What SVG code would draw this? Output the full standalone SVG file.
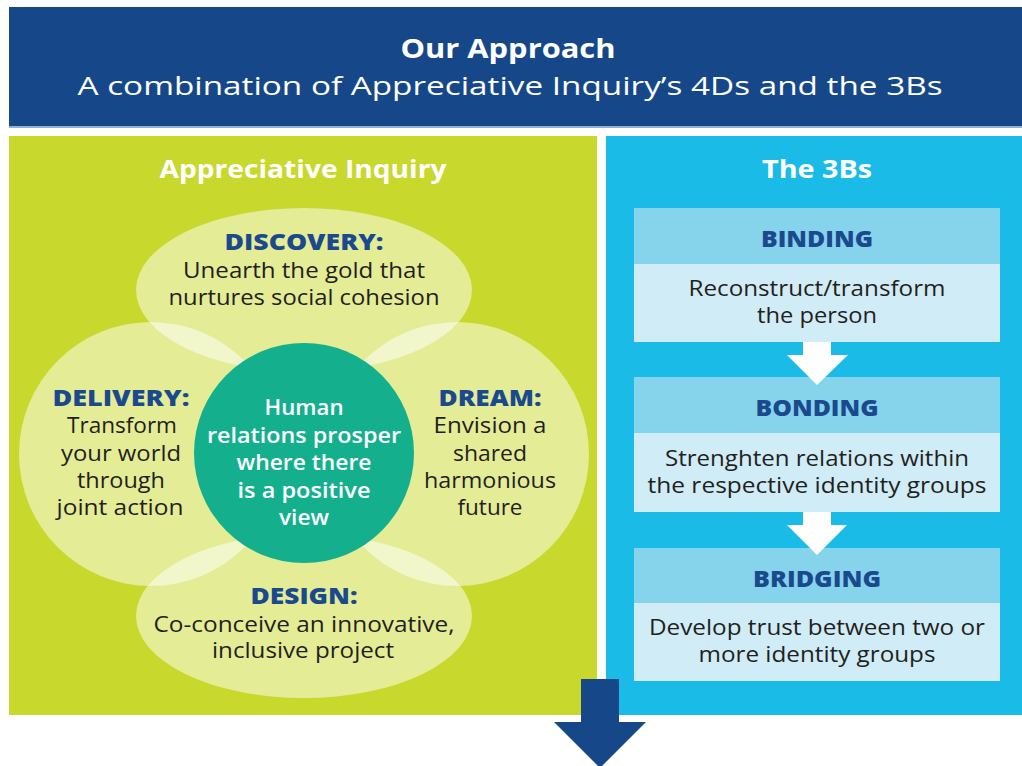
<svg xmlns="http://www.w3.org/2000/svg" width="1022" height="766" viewBox="0 0 1022 766">
<style>
text{font-family:"Open Sans","Liberation Sans",sans-serif;text-anchor:middle}
.t1{font-size:27px;font-weight:700;fill:#fff}
.t2{font-size:26px;font-weight:500;fill:#fff}
.ph{font-size:25px;font-weight:700;fill:#fff}
.hd{font-size:23px;font-weight:800;fill:#1a4a8d}
.bd{font-size:21px;font-weight:400;fill:#231f20}
.ct{font-size:21px;font-weight:600;fill:#fff}
.pale{fill:#fff;fill-opacity:0.5}
.bh{fill:#86d3ec}
.bb{fill:#d0ecf6}
</style>
<rect x="0" y="0" width="1022" height="766" fill="#fff"/>
<g id="header">
<rect x="9" y="7" width="1013" height="120" fill="#164889"/>
<rect x="9" y="126" width="1013" height="2" fill="#8fb0d6"/>
<text class="t1" x="508" y="58" textLength="215" lengthAdjust="spacingAndGlyphs">Our Approach</text>
<text class="t2" x="510" y="95" textLength="865" lengthAdjust="spacingAndGlyphs">A combination of Appreciative Inquiry’s 4Ds and the 3Bs</text>
</g>
<g id="panel-ai">
<rect x="9" y="136" width="588" height="579" fill="#c8d82c"/>
<text class="ph" x="303" y="178" textLength="287" lengthAdjust="spacingAndGlyphs">Appreciative Inquiry</text>
</g>
<g id="panel-3bs">
<rect x="606" y="136" width="416" height="579" fill="#1bbbe8"/>
<text class="ph" x="817" y="178" textLength="110" lengthAdjust="spacingAndGlyphs">The 3Bs</text>
</g>
<g id="discovery">
<ellipse class="pale" cx="304" cy="290" rx="168" ry="82"/>
</g>
<g id="delivery">
<ellipse class="pale" cx="151" cy="454" rx="132" ry="132"/>
</g>
<g id="dream">
<ellipse class="pale" cx="457" cy="454" rx="132" ry="132"/>
</g>
<g id="design">
<ellipse class="pale" cx="304" cy="616" rx="168" ry="82"/>
</g>
<g id="center">
<circle cx="304" cy="453" r="110" fill="#14b08e"/>
<text class="ct" x="304" y="415" textLength="79" lengthAdjust="spacingAndGlyphs">Human</text>
<text class="ct" x="304" y="443" textLength="194" lengthAdjust="spacingAndGlyphs">relations prosper</text>
<text class="ct" x="304" y="470" textLength="135" lengthAdjust="spacingAndGlyphs">where there</text>
<text class="ct" x="304" y="498" textLength="133" lengthAdjust="spacingAndGlyphs">is a positive</text>
<text class="ct" x="304" y="525" textLength="50" lengthAdjust="spacingAndGlyphs">view</text>
</g>
<g id="discovery-text">
<text class="hd" x="304" y="250" textLength="159" lengthAdjust="spacingAndGlyphs">DISCOVERY:</text>
<text class="bd" x="304" y="278" textLength="242" lengthAdjust="spacingAndGlyphs">Unearth the gold that</text>
<text class="bd" x="304" y="305" textLength="271" lengthAdjust="spacingAndGlyphs">nurtures social cohesion</text>
</g>
<g id="delivery-text">
<text class="hd" x="121" y="406" textLength="137" lengthAdjust="spacingAndGlyphs">DELIVERY:</text>
<text class="bd" x="122" y="433" textLength="110" lengthAdjust="spacingAndGlyphs">Transform</text>
<text class="bd" x="121" y="461" textLength="120" lengthAdjust="spacingAndGlyphs">your world</text>
<text class="bd" x="121" y="488" textLength="88" lengthAdjust="spacingAndGlyphs">through</text>
<text class="bd" x="120" y="515" textLength="127" lengthAdjust="spacingAndGlyphs">joint action</text>
</g>
<g id="dream-text">
<text class="hd" x="490" y="406" textLength="103" lengthAdjust="spacingAndGlyphs">DREAM:</text>
<text class="bd" x="490" y="433" textLength="113" lengthAdjust="spacingAndGlyphs">Envision a</text>
<text class="bd" x="490" y="461" textLength="74" lengthAdjust="spacingAndGlyphs">shared</text>
<text class="bd" x="490" y="488" textLength="132" lengthAdjust="spacingAndGlyphs">harmonious</text>
<text class="bd" x="490" y="515" textLength="65" lengthAdjust="spacingAndGlyphs">future</text>
</g>
<g id="design-text">
<text class="hd" x="304" y="604" textLength="107" lengthAdjust="spacingAndGlyphs">DESIGN:</text>
<text class="bd" x="304" y="632" textLength="301" lengthAdjust="spacingAndGlyphs">Co-conceive an innovative,</text>
<text class="bd" x="303" y="658" textLength="182" lengthAdjust="spacingAndGlyphs">inclusive project</text>
</g>
<g id="binding">
<rect class="bh" x="634" y="208" width="366" height="56"/>
<rect class="bb" x="634" y="264" width="366" height="78"/>
<text class="hd" x="817" y="247" textLength="112" lengthAdjust="spacingAndGlyphs">BINDING</text>
<text class="bd" x="817" y="296" textLength="257" lengthAdjust="spacingAndGlyphs">Reconstruct/transform</text>
<text class="bd" x="817" y="323" textLength="120" lengthAdjust="spacingAndGlyphs">the person</text>
</g>
<g id="bonding">
<rect class="bh" x="634" y="377" width="366" height="56"/>
<rect class="bb" x="634" y="433" width="366" height="79"/>
<text class="hd" x="817" y="416" textLength="123" lengthAdjust="spacingAndGlyphs">BONDING</text>
<text class="bd" x="817" y="466" textLength="304" lengthAdjust="spacingAndGlyphs">Strenghten relations within</text>
<text class="bd" x="817" y="493" textLength="339" lengthAdjust="spacingAndGlyphs">the respective identity groups</text>
</g>
<g id="bridging">
<rect class="bh" x="634" y="548" width="366" height="55"/>
<rect class="bb" x="634" y="603" width="366" height="78"/>
<text class="hd" x="817" y="587" textLength="128" lengthAdjust="spacingAndGlyphs">BRIDGING</text>
<text class="bd" x="817" y="635" textLength="336" lengthAdjust="spacingAndGlyphs">Develop trust between two or</text>
<text class="bd" x="817" y="662" textLength="237" lengthAdjust="spacingAndGlyphs">more identity groups</text>
</g>
<g id="connectors">
<polygon fill="#fff" points="803,342 831,342 831,355 848,355 817,385 787,355 803,355"/>
<polygon fill="#fff" points="803,512 831,512 831,525 847,525 817,555 787,525 803,525"/>
<polygon fill="#164889" points="581,679 619,679 619,722 646,722 600,768 554,722 581,722"/>
</g>
</svg>
